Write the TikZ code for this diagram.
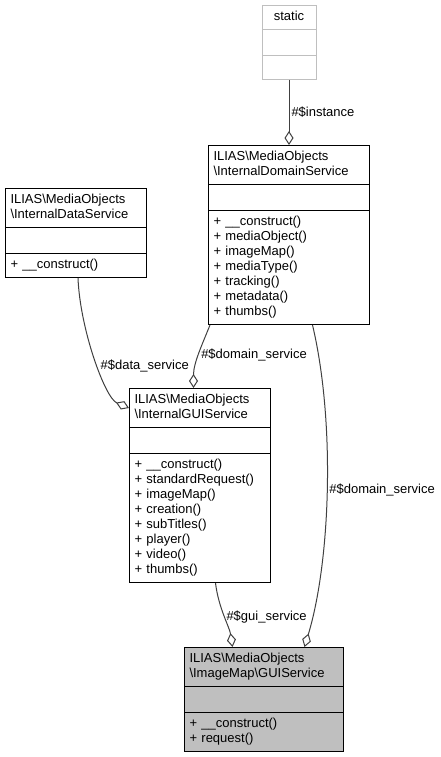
\documentclass[tikz,border=0pt]{standalone}
\usepackage{fontspec}
\setmainfont{Liberation Sans}
\usetikzlibrary{arrows.meta}
\usetikzlibrary{positioning}
\usetikzlibrary{shapes.multipart}

\begin{document}
\begin{tikzpicture}[x=1pt, y=1pt,
  cls/.style={rectangle split, rectangle split parts=3, draw, line width=1pt,
    font=\fontsize{13}{15}\selectfont, align=left, inner xsep=5pt, inner ysep=4pt},
  agg/.style={draw=black!75, line width=1pt, -{Diamond[open,length=14pt,width=9pt]}},
  role/.style={font=\fontsize{13}{15}\selectfont, inner sep=2pt}]
  \useasboundingbox (0,0) rectangle (441,-757);

  \node (cstatic) [cls, draw=black!25, text width=44pt, align=center, anchor=north] at (289,-5)
    {\strut static\nodepart{two}\rule[-5pt]{0pt}{17pt}\nodepart{three}\strut};

  \node (cdomain) [cls, text width=151pt, below=65pt of cstatic]
    {\strut ILIAS\textbackslash MediaObjects\\\textbackslash InternalDomainService\strut
     \nodepart{two}\rule[-5pt]{0pt}{17pt}
     \nodepart{three}\strut + \_\_construct()\\+ mediaObject()\\+ imageMap()\\+ mediaType()\\+ tracking()\\+ metadata()\\+ thumbs()\strut};

  \node (cdata) [cls, text width=131pt, below left=43pt and 61pt of cdomain.north west]
    {\strut ILIAS\textbackslash MediaObjects\\\textbackslash InternalDataService\strut
     \nodepart{two}\rule[-5pt]{0pt}{17pt}
     \nodepart{three}\strut + \_\_construct()\strut};

  \node (cgui) [cls, text width=131pt, below=63pt of cdomain, xshift=-89pt]
    {\strut ILIAS\textbackslash MediaObjects\\\textbackslash InternalGUIService\strut
     \nodepart{two}\rule[-5pt]{0pt}{17pt}
     \nodepart{three}\strut + \_\_construct()\\+ standardRequest()\\+ imageMap()\\+ creation()\\+ subTitles()\\+ player()\\+ video()\\+ thumbs()\strut};

  \node (cmap) [cls, fill=black!25, text width=149pt, below=64pt of cgui, xshift=64pt]
    {\strut ILIAS\textbackslash MediaObjects\\\textbackslash ImageMap\textbackslash GUIService\strut
     \nodepart{two}\rule[-5pt]{0pt}{17pt}
     \nodepart{three}\strut + \_\_construct()\\+ request()\strut};

  \draw [agg] (cstatic) -- node [role, right] {\#\$instance} (cdomain);
  \draw [agg] ([xshift=2pt]cdata.south) .. controls +(2,-51) and +(-24,10) ..
    node [role, right, pos=0.55] {\#\$data\_service} ([yshift=-20pt]cgui.north west);
  \draw [agg] ([xshift=2pt]cdomain.south west) .. controls +(-8,-20) and +(0,25) ..
    node [role, right, pos=0.5] {\#\$domain\_service} ([xshift=-6.5pt]cgui.north);
  \draw [agg] ([xshift=15.5pt]cgui.south) .. controls +(3,-25) and +(-3,20) ..
    node [role, right, pos=0.5] {\#\$gui\_service} ([xshift=-31.5pt]cmap.north);
  \draw [agg] ([xshift=23.5pt]cdomain.south) .. controls +(23,-97) and +(26,86) ..
    node [role, right, pos=0.5] {\#\$domain\_service} ([xshift=40.5pt]cmap.north);
\end{tikzpicture}
\end{document}
